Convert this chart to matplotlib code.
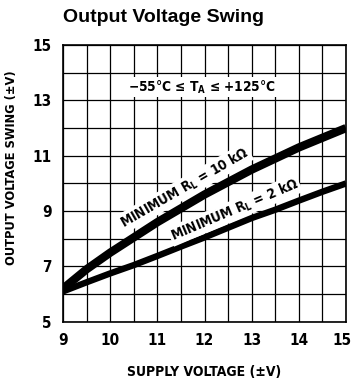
import matplotlib.pyplot as plt
import matplotlib.transforms as mtransforms
import numpy as np

supply = [9, 9.5, 10, 10.5, 11, 11.5, 12, 12.5, 13, 13.5, 14, 14.5, 15]
swing_10k = [6.2, 6.9, 7.5, 8.05, 8.6, 9.1, 9.6, 10.05, 10.5, 10.9, 11.3, 11.65, 12.0]
swing_2k = [6.1, 6.43, 6.75, 7.05, 7.38, 7.72, 8.05, 8.4, 8.75, 9.05, 9.38, 9.7, 10.0]
xticks = [9, 10, 11, 12, 13, 14, 15]
yticks = [5, 7, 9, 11, 13, 15]

fnt = dict(fontfamily='DejaVu Sans', fontstretch='condensed', fontweight='bold')

fig = plt.figure(figsize=(3.52, 3.85), dpi=100)
ax = fig.add_axes([0.179, 0.164, 0.804, 0.719])

ax.plot(supply, swing_10k, color='black', lw=6, solid_capstyle='butt', zorder=3)
ax.plot(supply, swing_2k, color='black', lw=4.6, solid_capstyle='butt', zorder=3)

ax.set_xlim(9, 15)
ax.set_ylim(5, 15)
ax.set_xticks(np.arange(9, 15.01, 0.5), minor=True)
ax.set_yticks(np.arange(5, 15.01, 1), minor=True)
ax.set_xticks(xticks)
ax.set_yticks(yticks)
ax.grid(which='both', color='black', lw=0.9)
ax.tick_params(which='both', length=0)
ax.tick_params(axis='x', pad=8)
ax.tick_params(axis='y', pad=8)
for lab in ax.get_xticklabels() + ax.get_yticklabels():
    lab.set_fontfamily('DejaVu Sans')
    lab.set_fontstretch('condensed')
    lab.set_fontweight('bold')
    lab.set_fontsize(11)
# last x label sits a bit inside the edge, as in the original
last = ax.get_xticklabels()[-1]
last.set_transform(last.get_transform() + mtransforms.ScaledTranslation(-4 / 100, 0, fig.dpi_scale_trans))
for s in ax.spines.values():
    s.set_linewidth(1.2)

ax.set_xlabel('SUPPLY VOLTAGE (±V)', fontsize=10, labelpad=12, **fnt)
ax.set_ylabel('OUTPUT VOLTAGE SWING (±V)', fontsize=9.2, **fnt)
ax.yaxis.set_label_coords(-0.159, 0.556)
fig.text(0.179, 0.955, 'Output Voltage Swing', fontfamily='Liberation Sans', fontweight='bold',
         fontsize=14, ha='left', va='center')

ax.text(11.95, 13.48, '−55°C ≤ T$_\\mathregular{A}$ ≤ +125°C', fontsize=9.8, ha='center', va='center',
        zorder=4, bbox=dict(facecolor='white', edgecolor='none', pad=1), **fnt)
ax.text(11.58, 9.84, 'MINIMUM R$_\\mathregular{L}$ = 10 kΩ', fontsize=9.8, ha='center', va='center',
        rotation=30, rotation_mode='anchor', zorder=4,
        bbox=dict(facecolor='white', edgecolor='none', pad=1), **fnt)
ax.text(12.64, 9.04, 'MINIMUM R$_\\mathregular{L}$ = 2 kΩ', fontsize=9.8, ha='center', va='center',
        rotation=23, rotation_mode='anchor', zorder=4,
        bbox=dict(facecolor='white', edgecolor='none', pad=1), **fnt)

fig.savefig('out.png', dpi=100)
